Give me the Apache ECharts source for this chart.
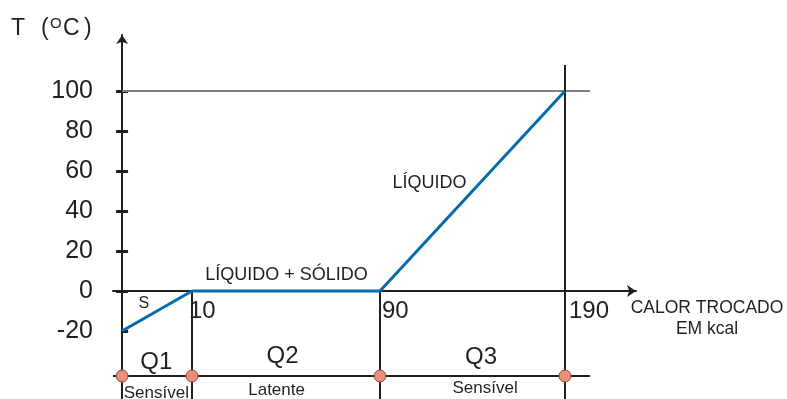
<!DOCTYPE html>
<html>
<head>
<meta charset="utf-8">
<script src="https://cdn.jsdelivr.net/npm/echarts@6/dist/echarts.min.js"></script>
<style>
  html, body { margin: 0; padding: 0; background: #fff; }
  #c { width: 787px; height: 399px; }
</style>
</head>
<body>
<div id="c"></div>
<script>
// Heating curve: heat exchanged (kcal) and temperature (°C) at the ends of each stage
const heatKcal = [0, 10, 90, 190];
const tempC = [-20, 0, 0, 100];
const tempTicks = [-20, 0, 20, 40, 60, 80, 100];
const heatTicks = [10, 90, 190];
const stageNames = ['Q1', 'Q2', 'Q3'];
const stageKinds = ['Sensível', 'Latente', 'Sensível'];
const phaseLabels = ['S', 'LÍQUIDO + SÓLIDO', 'LÍQUIDO'];
const axisTitleParts = ['T', '(', 'O', 'C', ')'];

const INK = '#231f20';
const BLUE = '#0869ad';
const GREY = '#808080';
const DOT = '#e8907a';
const FONT = '"Liberation Sans", Arial, sans-serif';

// Shared vertical range of the three panels
const Y_MIN = -54, Y_MAX = 128;
const STRIP = -42.5;     // level of the Q1/Q2/Q3 strip
const TOP_190 = 113;     // upper end of the 190 kcal guide
const tickNudge = [-3, 2, 4]; // horizontal shift of the 10 / 90 / 190 captions

// Each stage gets its own horizontal scale
const panels = [
  { left: 113, width: 79, min: -1.3, max: 10 },
  { left: 192, width: 188, min: 10, max: 90 },
  { left: 380, width: 256, min: 90, max: 228.4 }
];
const yIdx = [0, 2, 3];
const panelOf = v => (v < heatKcal[1] ? 0 : v < heatKcal[2] ? 1 : 2);

function seg(a, b, color, width) {
  return [{ coord: a, lineStyle: { color: color, width: width, type: 'solid' } }, { coord: b }];
}
function textPoint(x, y, text, size) {
  return {
    value: [x, y],
    label: { show: true, formatter: text, fontSize: size, color: INK, fontFamily: FONT, position: 'inside', opacity: 1 }
  };
}

const top100 = tempC[3];
const guides = [
  [
    seg([heatKcal[0], top100], [heatKcal[1], top100], GREY, 2),
    seg([panels[0].min, STRIP], [heatKcal[1], STRIP], INK, 2)
  ],
  [
    seg([heatKcal[1], top100], [heatKcal[2], top100], GREY, 2),
    seg([heatKcal[1], STRIP], [heatKcal[2], STRIP], INK, 2),
    seg([heatKcal[1], 0], [heatKcal[1], Y_MIN], INK, 2)
  ],
  [
    seg([heatKcal[2], top100], [203.5, top100], GREY, 2),
    seg([heatKcal[2], STRIP], [203.5, STRIP], INK, 2),
    seg([heatKcal[2], 0], [heatKcal[2], Y_MIN], INK, 2),
    seg([heatKcal[3], TOP_190], [heatKcal[3], Y_MIN], INK, 2)
  ]
];

const texts = [
  [textPoint(3.1, -6.25, phaseLabels[0], 16), textPoint(4.9, -35.5, stageNames[0], 24), textPoint(4.9, -51, stageKinds[0], 17)],
  [textPoint(50.2, 8, phaseLabels[1], 18), textPoint(48.5, -32.5, stageNames[1], 24), textPoint(46, -49.5, stageKinds[1], 17)],
  [textPoint(116.8, 54, phaseLabels[2], 18), textPoint(144.6, -33, stageNames[2], 24), textPoint(146.8, -48.75, stageKinds[2], 17)]
];

// heat values written just under the horizontal axis, right of each guide
heatTicks.forEach((v, k) => {
  texts[panelOf(v)].push({
    value: [v, 0],
    label: {
      show: true, formatter: String(v), fontSize: 24, color: INK, fontFamily: FONT, opacity: 1,
      position: 'inside', align: 'left', verticalAlign: 'middle', offset: [tickNudge[k], 20]
    }
  });
});

const series = [];
panels.forEach((p, i) => {
  // curve segment of this stage
  series.push({
    type: 'line', xAxisIndex: i, yAxisIndex: yIdx[i], clip: false, z: 5,
    data: [[heatKcal[i], tempC[i]], [heatKcal[i + 1], tempC[i + 1]]],
    symbol: 'none', lineStyle: { color: BLUE, width: 3 },
    markLine: { silent: true, symbol: ['none', 'none'], label: { show: false }, animation: false, z: 3, data: guides[i] }
  });
  // stage boundary dots
  series.push({
    type: 'scatter', xAxisIndex: i, yAxisIndex: yIdx[i], clip: false, z: 6,
    symbol: 'circle', symbolSize: 12,
    itemStyle: { color: DOT, borderColor: '#8e4a3b', borderWidth: 1, opacity: 1 },
    data: heatKcal.filter(v => panelOf(v) === i).map(v => [v, STRIP])
  });
  // stage, phase and heat captions
  series.push({
    type: 'scatter', xAxisIndex: i, yAxisIndex: yIdx[i], clip: false, z: 7,
    symbolSize: 1, itemStyle: { color: 'rgba(0,0,0,0)', opacity: 1 },
    data: texts[i]
  });
});

// vertical axis title "T (°C)" with a raised O
const titleSlots = [
  { left: 11, top: 17, size: 23 },
  { left: 41, top: 17, size: 23 },
  { left: 50, top: 16, size: 15 },
  { left: 63, top: 17, size: 23 },
  { left: 84, top: 17, size: 23 }
];
const titles = axisTitleParts.map((t, k) => ({
  text: t, left: titleSlots[k].left, top: titleSlots[k].top, padding: 0,
  textStyle: { fontSize: titleSlots[k].size, fontWeight: 'normal', color: INK, fontFamily: FONT }
}));

const yRange = { type: 'value', min: Y_MIN, max: Y_MAX, splitLine: { show: false } };

const option = {
  animation: false,
  backgroundColor: '#fff',
  title: titles,
  grid: panels.map(p => ({ left: p.left, width: p.width, top: 35, height: 364, outerBoundsMode: 'none', containLabel: false })),
  xAxis: panels.map((p, i) => ({
    type: 'value', gridIndex: i, min: p.min, max: p.max,
    splitLine: { show: false },
    axisTick: { show: false },
    axisLabel: { show: false },
    axisLine: {
      show: true, onZero: true,
      lineStyle: { color: INK, width: 2 },
      symbol: i === 2 ? ['none', 'arrow'] : 'none',
      symbolSize: [9, 9]
    },
    name: i === 2 ? 'CALOR TROCADO\nEM kcal' : '',
    nameLocation: 'end',
    nameGap: 71,
    nameTextStyle: {
      align: 'center', verticalAlign: 'top', fontSize: 17.5, lineHeight: 21,
      color: INK, fontFamily: FONT, padding: [7, 0, 0, 0]
    }
  })),
  yAxis: [
    Object.assign({}, yRange, {
      gridIndex: 0, position: 'left',
      axisLine: { show: true, onZero: true, onZeroAxisIndex: 0, lineStyle: { color: INK, width: 2 }, symbol: ['none', 'arrow'], symbolSize: [9, 9] },
      axisTick: { show: true, customValues: tempTicks.filter(v => v > tempTicks[0]), length: 6, lineStyle: { color: INK, width: 3 } },
      axisLabel: { show: true, customValues: tempTicks, fontSize: 25, color: INK, fontFamily: FONT, margin: 20 }
    }),
    Object.assign({}, yRange, {
      gridIndex: 0, position: 'left',
      axisLine: { show: true, onZero: true, onZeroAxisIndex: 0, lineStyle: { color: 'rgba(0,0,0,0)', width: 0 } },
      axisTick: { show: true, inside: true, customValues: tempTicks, length: 6, lineStyle: { color: INK, width: 3 } },
      axisLabel: { show: false }
    }),
    Object.assign({}, yRange, { gridIndex: 1, show: false }),
    Object.assign({}, yRange, { gridIndex: 2, show: false })
  ],
  series: series
};

const chart = echarts.init(document.getElementById('c'));
chart.setOption(option);
</script>
</body>
</html>
